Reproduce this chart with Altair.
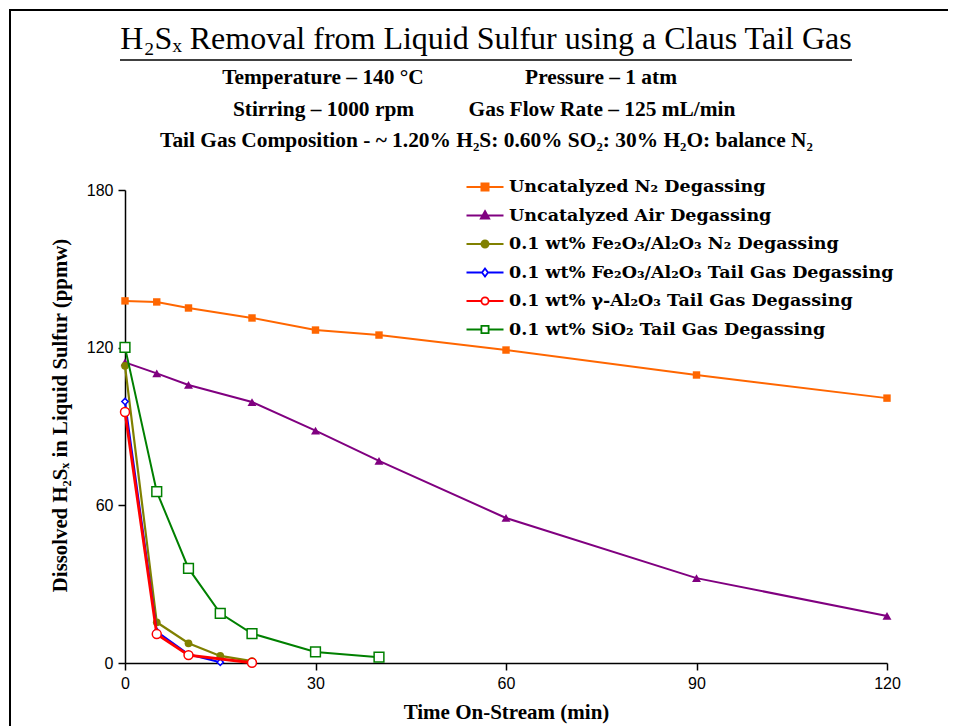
import altair as alt
import pandas as pd

# ---------------- data ----------------
series_names = [
    "Uncatalyzed N₂ Degassing",
    "Uncatalyzed Air Degassing",
    "0.1 wt% Fe₂O₃/Al₂O₃ N₂ Degassing",
    "0.1 wt% Fe₂O₃/Al₂O₃ Tail Gas Degassing",
    "0.1 wt% γ-Al₂O₃ Tail Gas Degassing",
    "0.1 wt% SiO₂ Tail Gas Degassing",
]

t_n2 = [0, 5, 10, 20, 30, 40, 60, 90, 120]
y_n2 = [137.8, 137.4, 135.1, 131.3, 126.7, 124.8, 119.1, 109.6, 100.8]

t_air = [0, 5, 10, 20, 30, 40, 60, 90, 120]
y_air = [114.4, 110.2, 105.8, 99.3, 88.4, 76.9, 55.2, 32.3, 17.9]

t_fe_n2 = [0, 5, 10, 15, 20]
y_fe_n2 = [113.1, 15.5, 7.5, 2.7, 0.7]

t_fe_tg = [0, 5, 10, 15]
y_fe_tg = [99.5, 12.0, 3.3, 0.3]

t_al_tg = [0, 5, 10, 20]
y_al_tg = [95.5, 11.0, 3.0, 0.1]

t_si_tg = [0, 5, 10, 15, 20, 30, 40]
y_si_tg = [120.1, 65.2, 36.0, 18.9, 11.2, 4.2, 2.2]

x_ticks = [0, 30, 60, 90, 120]
y_ticks = [0, 60, 120, 180]

series_t = [t_n2, t_air, t_fe_n2, t_fe_tg, t_al_tg, t_si_tg]
series_y = [y_n2, y_air, y_fe_n2, y_fe_tg, y_al_tg, y_si_tg]

rows = []
for name, ts, ys in zip(series_names, series_t, series_y):
    for t, v in zip(ts, ys):
        rows.append({"series": name, "time": t, "value": v})
df = pd.DataFrame(rows)

# ---------------- styles ----------------
colors = ["#FF6600", "#800080", "#808000", "#0000FF", "#FF0000", "#008000"]
shapes = ["square", "triangle-up", "circle", "diamond", "circle", "square"]
filled = [True, True, True, False, False, False]
sizes = [55, 80, 60, 40, 80, 95]
widths = [2, 2, 2.2, 2, 2.8, 2]

SERIF = "Liberation Serif, Times New Roman, serif"
LEGEND_FONT = "DejaVu Serif, Liberation Serif, serif"
SANS = "Liberation Sans Narrow, Arial Narrow, Liberation Sans, Arial, sans-serif"

x_scale = alt.Scale(domain=[0, 120], nice=False)
y_scale = alt.Scale(domain=[0, 180], nice=False)

x_axis = alt.Axis(values=x_ticks, title="Time On-Stream (min)", grid=False,
                  titleFont=SERIF, titleFontSize=21, titleFontWeight="bold",
                  titleBaseline="middle", titleY=49, labelPadding=5, labelFlush=False)
y_axis = alt.Axis(values=y_ticks, title="Dissolved H₂Sₓ in Liquid Sulfur (ppmw)", grid=False,
                  titleFont=SERIF, titleFontSize=20.8, titleFontWeight="bold",
                  titlePadding=16, titleY=225, labelPadding=5, labelFlush=False)

layers = []
for i, name in enumerate(series_names):
    pt = dict(shape=shapes[i], size=sizes[i], strokeWidth=1.5, opacity=1)
    if filled[i]:
        pt.update(filled=True, color=colors[i])
    else:
        pt.update(filled=False, fill="white", stroke=colors[i])
    lyr = alt.Chart(df).transform_filter(
        alt.datum.series == name
    ).mark_line(
        color=colors[i], strokeWidth=widths[i], point=alt.OverlayMarkDef(**pt)
    ).encode(
        x=alt.X("time:Q", scale=x_scale, axis=x_axis),
        y=alt.Y("value:Q", scale=y_scale, axis=y_axis),
    )
    layers.append(lyr)

# ---------------- legend (line + marker symbols) ----------------
m_sq = "M-0.36,-0.36H0.36V0.36H-0.36Z"
m_tri = "M0,-0.45L0.42,0.3H-0.42Z"
m_cir = "M-0.36,0A0.36,0.36 0 1,0 0.36,0A0.36,0.36 0 1,0 -0.36,0Z"
m_dia = "M0,-0.4L0.3,0L0,0.4L-0.3,0Z"
full_line = "M-1.85,0H1.85"
def broken(h):
    return f"M-1.85,0H-{h}M{h},0H1.85"
legend_paths = [
    full_line + m_sq,
    full_line + m_tri,
    full_line + m_cir,
    broken(0.3) + m_dia,
    broken(0.36) + m_cir,
    broken(0.36) + m_sq,
]
legend_fills = [colors[0], colors[1], colors[2], "white", "white", "white"]

leg = alt.Legend(title=None, orient="none", legendX=349, legendY=-14,
                 labelFont=LEGEND_FONT, labelFontSize=17.5, labelFontWeight="bold",
                 labelColor="black", labelLimit=600, symbolSize=400,
                 symbolStrokeWidth=1.8, rowPadding=8.5, labelOffset=13, padding=0,
                 symbolOpacity=1)

legend_df = pd.DataFrame({"series": series_names})
legend_layer = alt.Chart(legend_df).mark_point(filled=False).encode(
    shape=alt.Shape("series:N", scale=alt.Scale(domain=series_names, range=legend_paths), legend=leg),
    stroke=alt.Stroke("series:N", scale=alt.Scale(domain=series_names, range=colors), legend=leg),
    fill=alt.Fill("series:N", scale=alt.Scale(domain=series_names, range=legend_fills), legend=leg),
).transform_filter("false")

# ---------------- titles / annotations ----------------
one = alt.Data(values=[{}])

def txt(s, x, y, size, weight="bold", font=SERIF):
    return alt.Chart(one).mark_text(text=s, x=x, y=y, fontSize=size, fontWeight=weight,
                                    font=font, align="center", baseline="middle", color="black")

annotations = [
    txt("H₂Sₓ Removal from Liquid Sulfur using a Claus Tail Gas", 361, -151, 32, weight="normal"),
    txt("Temperature – 140 °C", 198, -112.5, 21.4),
    txt("Pressure – 1 atm", 476, -112.5, 21.4),
    txt("Stirring – 1000 rpm", 198.5, -80, 21.4),
    txt("Gas Flow Rate – 125 mL/min", 477, -80, 21.4),
    txt("Tail Gas Composition - ~ 1.20% H₂S: 0.60% SO₂: 30% H₂O: balance N₂", 361.5, -49, 21.4),
]

underline = alt.Chart(one).mark_rule(color="black", strokeWidth=1.4).encode(
    x=alt.value(-5), x2=alt.value(727), y=alt.value(-130))
border_left = alt.Chart(one).mark_rule(color="black", strokeWidth=2).encode(
    x=alt.value(-115), y=alt.value(-180), y2=alt.value(700))
border_top = alt.Chart(one).mark_rule(color="black", strokeWidth=2).encode(
    x=alt.value(-116), x2=alt.value(900), y=alt.value(-180))

chart = alt.layer(
    *layers, legend_layer, *annotations, underline, border_left, border_top
).properties(
    width=762, height=473,
    autosize=alt.AutoSizeParams(type="none"),
    padding={"left": 117, "top": 182, "right": 61, "bottom": 63},
).configure_view(
    strokeWidth=0
).configure_axis(
    domainColor="black", domainWidth=1.5, tickColor="black", tickWidth=1.5,
    tickSize=7, labelFont=SANS, labelFontSize=16, labelColor="black",
    titleColor="black"
)

chart.save("out.html", embed_options={"renderer": "svg", "actions": False})
